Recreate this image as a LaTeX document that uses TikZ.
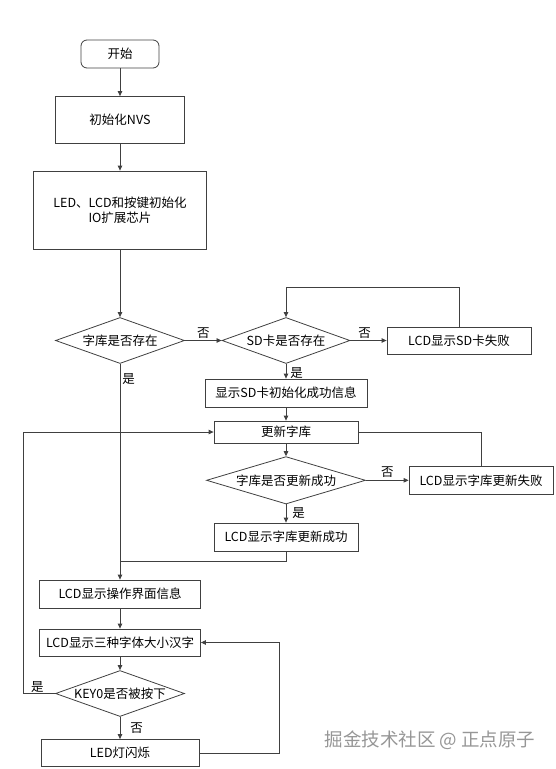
\documentclass[tikz,border=0pt]{standalone}
\usepackage{fontspec}
\newfontfamily\cjk{Noto Sans CJK SC}
\usetikzlibrary{arrows.meta,positioning,shapes.geometric,calc}
\definecolor{fcline}{RGB}{64,64,64}
\definecolor{fcmark}{RGB}{150,150,150}
\tikzset{
  fctext/.style={font=\cjk\fontsize{12.5}{15}\selectfont},
  startbox/.style={draw=fcline, line width=0.8pt, rounded corners=6pt, minimum width=78pt, minimum height=28pt, fctext},
  procbox/.style={draw=fcline, line width=0.8pt, minimum height=28pt, inner sep=0pt, align=center, fctext},
  decision/.style={draw=fcline, line width=0.8pt, diamond, aspect=2.8, inner sep=0pt, minimum height=46pt, fctext},
  flow/.style={draw=fcline, line width=0.8pt, -{Triangle[length=5pt,width=4.5pt]}},
  link/.style={draw=fcline, line width=0.8pt},
  yesno/.style={fctext, inner sep=2pt},
}

\begin{document}
\begin{tikzpicture}[x=1pt,y=-1pt]
\useasboundingbox (0,0) rectangle (556,769);

% --- initialisation ---
\node[startbox] (start) at (120,54) {开始};
\node[procbox, minimum width=129pt, minimum height=47pt] (nvs) at (120,120) {初始化NVS};
\node[procbox, minimum width=173pt, minimum height=78pt] (init) at (120,210) {LED、LCD和按键初始化\\IO扩展芯片};

% --- font library / SD card check ---
\node[decision, minimum width=129pt] (hasfont) at (120,340.5) {字库是否存在};
\node[decision, minimum width=128pt] (hassd) at (286,340.5) {SD卡是否存在};
\node[procbox, minimum width=144pt, minimum height=27pt] (sdfail) at (459,340.5) {LCD显示SD卡失败};
\node[procbox, minimum width=162pt] (sdok) at (286,393) {显示SD卡初始化成功信息};

% --- font update ---
\node[procbox, minimum width=144pt, minimum height=22pt] (update) at (286,432) {更新字库};
\node[decision, minimum width=159pt] (updok) at (286,480.3) {字库是否更新成功};
\node[procbox, minimum width=144pt] (updfail) at (481,480.3) {LCD显示字库更新失败};
\node[procbox, minimum width=144pt] (updshow) at (286,537) {LCD显示字库更新成功};

% --- main loop ---
\node[procbox, minimum width=161pt] (uiinfo) at (120,594) {LCD显示操作界面信息};
\node[procbox, minimum width=161pt, minimum height=27pt] (fonts) at (120,642.5) {LCD显示三种字体大小汉字};
\node[decision, minimum width=129pt] (key) at (120,693.5) {KEY0是否被按下};
\node[procbox, minimum width=158pt, minimum height=27pt] (blink) at (120,753) {LED灯闪烁};

% helper points for the loops
\coordinate (sdloop) at (459,287.5);
\coordinate (join) at (120,561.5);
\coordinate (keyloop) at (23.5,693.5);
\coordinate (blinkloop) at (279,753);

% --- connectors ---
\draw[flow] (start) -- (nvs);
\draw[flow] (nvs) -- (init);
\draw[flow] (init) -- (hasfont);
\draw[flow] (hasfont) -- node[yesno, above]{否} (hassd);
\draw[flow] (hassd) -- node[yesno, above, xshift=-4pt]{否} (sdfail);
\draw[flow] (sdfail.north) -- (sdloop) -| (hassd.north);
\draw[flow] (hassd) -- node[yesno, right, pos=0.6, xshift=2pt]{是} (sdok);
\draw[flow] (sdok) -- (update);
\draw[flow] (update) -- (updok);
\draw[flow] (updok) -- node[yesno, above]{否} (updfail);
\draw[link] (updfail.north) |- (update.east);
\draw[flow] (updok) -- node[yesno, right, xshift=4pt]{是} (updshow);
\draw[link] (updshow.south) |- (join);
\draw[flow] (hasfont) -- node[yesno, right, pos=0.07]{是} (uiinfo);
\draw[flow] (uiinfo) -- (fonts);
\draw[flow] (fonts) -- (key);
\draw[flow] (key) -- node[yesno, right, xshift=8pt]{否} (blink);
\draw[flow] (key.west) -- node[yesno, above, inner sep=0.5pt, xshift=-2pt]{是} (keyloop) |- (update.west);
\draw[flow] (blink.east) -- (blinkloop) |- (fonts.east);

% watermark
\node[font=\cjk\fontsize{18.5}{22}\selectfont, text=fcmark] (mark) at (430,740) {掘金技术社区 @ 正点原子};

\end{tikzpicture}
\end{document}
